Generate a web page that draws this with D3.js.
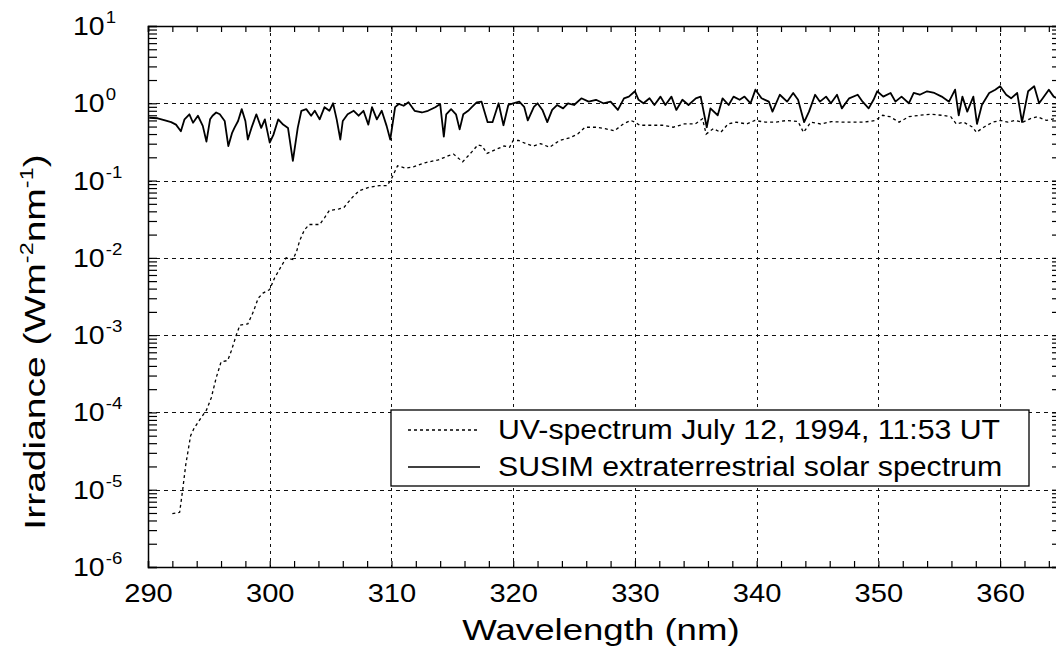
<!DOCTYPE html>
<html><head><meta charset="utf-8">
<script src="https://cdn.jsdelivr.net/npm/d3@7"></script>
<style>
html,body{margin:0;padding:0;background:#fff;}
svg{display:block;font-family:"Liberation Sans",Arial,Helvetica,sans-serif;}
</style></head>
<body><svg id="c" width="1056" height="650"></svg>
<script>
// ---- data ----
const susimWl = [
290.1,290.8,291.4,291.9,292.3,292.7,293.0,293.4,293.7,294.1,
294.5,294.8,295.1,295.3,295.6,295.9,296.3,296.6,296.9,297.1,
297.4,297.7,298.0,298.2,298.5,298.9,299.3,299.6,300.0,300.3,
300.7,301.1,301.5,301.9,302.3,302.6,303.0,303.4,303.7,304.1,
304.5,304.9,305.2,305.5,305.8,306.0,306.4,306.9,307.3,307.7,
308.1,308.4,308.8,309.2,309.6,309.9,310.3,310.6,311.0,311.4,
311.9,312.5,313.0,313.6,314.0,314.3,314.5,314.9,315.3,315.6,
315.9,316.3,316.6,317.0,317.4,317.9,318.3,318.8,319.2,319.6,
320.0,320.5,320.9,321.2,321.7,322.0,322.4,322.8,323.2,323.6,
324.1,324.5,325.0,325.6,326.2,326.8,327.4,328.0,328.6,329.1,
329.5,330.0,330.3,330.7,331.2,331.6,332.1,332.5,333.0,333.4,
333.9,334.4,335.0,335.4,335.9,336.2,336.8,337.2,337.7,338.1,
338.6,339.0,339.5,339.9,340.4,341.0,341.3,341.9,342.5,343.0,
343.4,343.9,344.3,344.8,345.2,345.7,346.1,346.6,347.0,347.6,
348.3,348.7,349.2,349.6,349.9,350.4,351.0,351.4,351.9,352.5,
352.9,353.4,354.0,354.6,355.2,355.8,356.3,356.6,356.9,357.3,
357.8,358.1,358.5,359.1,359.6,360.0,360.5,360.9,361.4,361.8,
362.3,362.8,363.2,363.5,364.0,364.4,365.0];
const susimIrr = [
0.65,0.64,0.60,0.57,0.53,0.435,0.62,0.72,0.56,0.69,
0.51,0.32,0.62,0.69,0.76,0.72,0.59,0.28,0.41,0.48,
0.59,0.84,0.59,0.34,0.48,0.72,0.48,0.62,0.31,0.39,
0.62,0.53,0.48,0.18,0.48,0.80,0.84,0.69,0.80,0.62,
0.89,0.80,1.0,0.62,0.34,0.59,0.72,0.80,0.69,0.80,
0.53,0.89,0.62,0.80,0.51,0.34,0.89,0.98,0.93,1.03,
0.80,0.76,0.80,0.89,0.98,0.37,0.72,0.84,0.72,0.46,
0.72,0.80,0.89,1.03,1.05,0.57,0.57,1.0,0.52,0.95,
1.0,1.05,0.90,0.60,0.90,1.0,0.82,0.57,0.82,0.95,
0.86,1.0,0.95,1.16,1.05,1.11,1.0,1.05,0.82,1.16,
1.22,1.43,1.11,1.0,1.16,0.95,1.22,0.95,1.22,0.82,
1.11,0.95,1.16,1.22,0.49,0.86,0.70,1.16,0.95,1.22,
1.11,1.22,1.0,1.50,1.16,1.05,0.78,1.29,1.05,1.36,
1.11,0.57,0.78,1.29,1.05,1.22,1.0,1.29,0.86,1.16,
1.29,1.05,0.86,1.11,1.43,1.22,1.36,1.05,1.22,1.0,
1.36,1.29,1.43,1.36,1.22,1.05,1.50,0.70,1.22,0.78,
1.22,0.54,0.95,1.36,1.50,1.66,1.29,1.16,1.36,0.57,
1.43,1.66,1.0,1.16,1.50,1.22,1.1];

const uvWl = [
292.0,292.6,292.85,293.1,293.5,293.8,294.35,294.8,295.2,295.6,
296.0,296.55,296.85,297.25,297.55,298.2,298.65,299.05,299.45,300.0,
300.4,300.95,301.35,301.9,302.2,302.45,302.85,303.25,304.1,304.5,
304.9,305.7,306.1,306.8,307.35,308.15,309.0,309.65,310.05,310.5,
311.15,311.8,312.75,313.85,314.7,315.1,315.85,316.6,317.1,317.45,
317.85,318.5,319.25,319.7,320.0,320.45,321.05,321.65,322.25,323.0,
323.8,324.7,325.3,325.9,326.8,327.55,328.3,329.05,329.65,330.0,
330.4,331.3,332.25,333.15,334.05,334.95,335.55,335.85,336.45,337.05,
337.65,338.3,339.2,339.85,340.7,341.6,342.5,343.4,343.85,344.45,
345.25,346.15,347.05,347.95,348.85,349.75,350.35,350.95,351.7,352.5,
353.4,354.3,355.2,355.95,356.4,357.0,357.75,358.05,358.65,359.4,
360.0,360.65,361.25,361.85,362.45,363.05,363.8,364.4,365.0];
const uvIrr = [
4.9e-6,5.1e-6,1.0e-5,2.1e-5,5.0e-5,6.3e-5,8.5e-5,1.07e-4,1.55e-4,2.8e-4,
4.5e-4,4.7e-4,6.3e-4,1.0e-3,1.35e-3,1.4e-3,2.0e-3,3.0e-3,3.5e-3,3.9e-3,
5.5e-3,7.8e-3,1.0e-2,9.5e-3,1.2e-2,1.65e-2,2.3e-2,2.7e-2,2.7e-2,3.3e-2,
4.1e-2,4.3e-2,4.5e-2,6.1e-2,7.4e-2,8.2e-2,8.6e-2,8.6e-2,0.11,0.155,
0.145,0.15,0.17,0.185,0.21,0.22,0.175,0.235,0.29,0.28,
0.225,0.25,0.28,0.27,0.33,0.33,0.30,0.28,0.30,0.27,
0.33,0.36,0.40,0.49,0.49,0.47,0.44,0.54,0.60,0.57,
0.52,0.52,0.52,0.49,0.54,0.54,0.63,0.40,0.47,0.42,
0.54,0.57,0.54,0.60,0.57,0.57,0.60,0.58,0.42,0.57,
0.54,0.58,0.57,0.57,0.57,0.60,0.70,0.67,0.57,0.67,
0.70,0.72,0.70,0.67,0.54,0.57,0.49,0.42,0.49,0.57,
0.60,0.57,0.60,0.57,0.63,0.67,0.60,0.63,0.62];

const xMajorTicks = [290,300,310,320,330,340,350,360];
const xTickLabels = ["290","300","310","320","330","340","350","360"];
const xMinorTicks = [292,294,296,298,302,304,306,308,312,314,316,318,322,324,326,328,
  332,334,336,338,342,344,346,348,352,354,356,358,362,364];
const yExponents = [1,0,-1,-2,-3,-4,-5,-6];
const legendLabels = ["UV-spectrum July 12, 1994, 11:53 UT","SUSIM extraterrestrial solar spectrum"];

// ---- chart ----
const svg = d3.select("#c");
const L=148, R=1061, T=26, B=567;
const x = d3.scaleLinear().domain([290,365]).range([L,R]);
const y = d3.scaleLog().domain([1e-6,10]).range([B,T]);
const FONT = 26;

// widen the glyphs a little (reference face is wider than Liberation Sans)
function stretch(sel, f) {
  sel.each(function() {
    const w = this.getComputedTextLength();
    d3.select(this).attr("textLength", w * f).attr("lengthAdjust", "spacingAndGlyphs");
  });
}

const yMajor = yExponents.map(e => Math.pow(10,e));
const yMinor = [];
yExponents.filter(e => e < 1).forEach(e => { for (let m=2;m<=9;m++) yMinor.push(m*Math.pow(10,e)); });

// grid
const grid = svg.append("g").attr("stroke","#111").attr("stroke-width",1).attr("fill","none");
grid.selectAll(".vg").data(xMajorTicks.filter(d=>d>290)).join("line")
  .attr("x1",d=>Math.round(x(d))+0.5).attr("x2",d=>Math.round(x(d))+0.5)
  .attr("y1",T).attr("y2",B).attr("stroke-dasharray","3,4");
grid.selectAll(".hg").data(yMajor.filter(d=>d<9 && d>2e-6)).join("line")
  .attr("x1",L).attr("x2",R)
  .attr("y1",d=>Math.round(y(d))+0.5).attr("y2",d=>Math.round(y(d))+0.5).attr("stroke-dasharray","4,4");

// clip
svg.append("clipPath").attr("id","clip").append("rect").attr("x",L).attr("y",T).attr("width",R-L).attr("height",B-T);

const line = d3.line().x(d=>x(d[0])).y(d=>y(d[1]));
svg.append("path").datum(d3.zip(uvWl,uvIrr)).attr("clip-path","url(#clip)")
  .attr("d",line).attr("fill","none").attr("stroke","#000").attr("stroke-width",1.3).attr("stroke-dasharray","3,3");
svg.append("path").datum(d3.zip(susimWl,susimIrr)).attr("clip-path","url(#clip)")
  .attr("d",line).attr("fill","none").attr("stroke","#000").attr("stroke-width",1.8).attr("stroke-linejoin","round");

// axes
const allX = xMajorTicks.concat(xMinorTicks);
const ax = svg.append("g").attr("transform",`translate(0,${B})`)
  .call(d3.axisBottom(x).tickValues(allX).tickSize(-6).tickPadding(17)
     .tickFormat(d => { const i = xMajorTicks.indexOf(d); return i>=0 ? xTickLabels[i] : ""; }));
svg.append("g").attr("transform",`translate(0,${T})`)
  .call(d3.axisTop(x).tickValues(allX).tickSize(-6).tickFormat(""));
svg.append("g").attr("transform",`translate(${L},0)`)
  .call(d3.axisLeft(y).tickValues(yMajor.concat(yMinor)).tickSize(-9).tickFormat(""));
svg.append("g").attr("transform",`translate(${R},0)`)
  .call(d3.axisRight(y).tickValues(yMajor.concat(yMinor)).tickSize(-9).tickFormat(""));
svg.selectAll(".domain").attr("stroke","#000").attr("stroke-width",1.5);
svg.selectAll(".tick line").attr("stroke","#000").attr("stroke-width",1.2);
ax.selectAll("text").attr("font-size",FONT).attr("fill","#000").attr("font-family","'Liberation Sans',Arial,sans-serif")
  .filter(function(){ return this.textContent.length > 0; }).call(stretch, 1.12);

// y tick labels 10^n
const yl = svg.append("g").attr("fill","#000");
yExponents.forEach(e => {
  const t = yl.append("text").attr("x",73).attr("y",y(Math.pow(10,e))+9).attr("font-size",FONT);
  t.append("tspan").text("10");
  t.append("tspan").attr("dy",-12).attr("dx",1).attr("font-size",17).text(String(e));
  t.call(stretch, 1.12);
});

// axis titles
const xt = svg.append("text").attr("x",601).attr("y",640).attr("text-anchor","middle")
  .attr("font-size",30).attr("fill","#000").text("Wavelength (nm)");
xt.call(stretch, 1.22);
const yt = svg.append("text").attr("transform","translate(45,342) rotate(-90)")
  .attr("text-anchor","middle").attr("font-size",30).attr("fill","#000");
yt.append("tspan").text("Irradiance (Wm");
yt.append("tspan").attr("dy",-12).attr("font-size",18).text("-2");
yt.append("tspan").attr("dy",12).text("nm");
yt.append("tspan").attr("dy",-12).attr("font-size",18).text("-1");
yt.append("tspan").attr("dy",12).text(")");
yt.call(stretch, 1.3);

// legend
const lg = svg.append("g");
lg.append("rect").attr("x",391).attr("y",410).attr("width",638).attr("height",76)
  .attr("fill","#fff").attr("stroke","#000").attr("stroke-width",1.3);
const rowsY = [430,467];
lg.append("line").attr("x1",408).attr("x2",480).attr("y1",rowsY[0]).attr("y2",rowsY[0])
  .attr("stroke","#000").attr("stroke-width",1.3).attr("stroke-dasharray","3,3");
lg.append("line").attr("x1",408).attr("x2",480).attr("y1",rowsY[1]).attr("y2",rowsY[1])
  .attr("stroke","#000").attr("stroke-width",1.3);
legendLabels.forEach((s,i) => {
  lg.append("text").attr("x",498).attr("y",rowsY[i]+9).attr("font-size",27).attr("fill","#000").text(s)
    .call(stretch, 1.12);
});
</script></body></html>
